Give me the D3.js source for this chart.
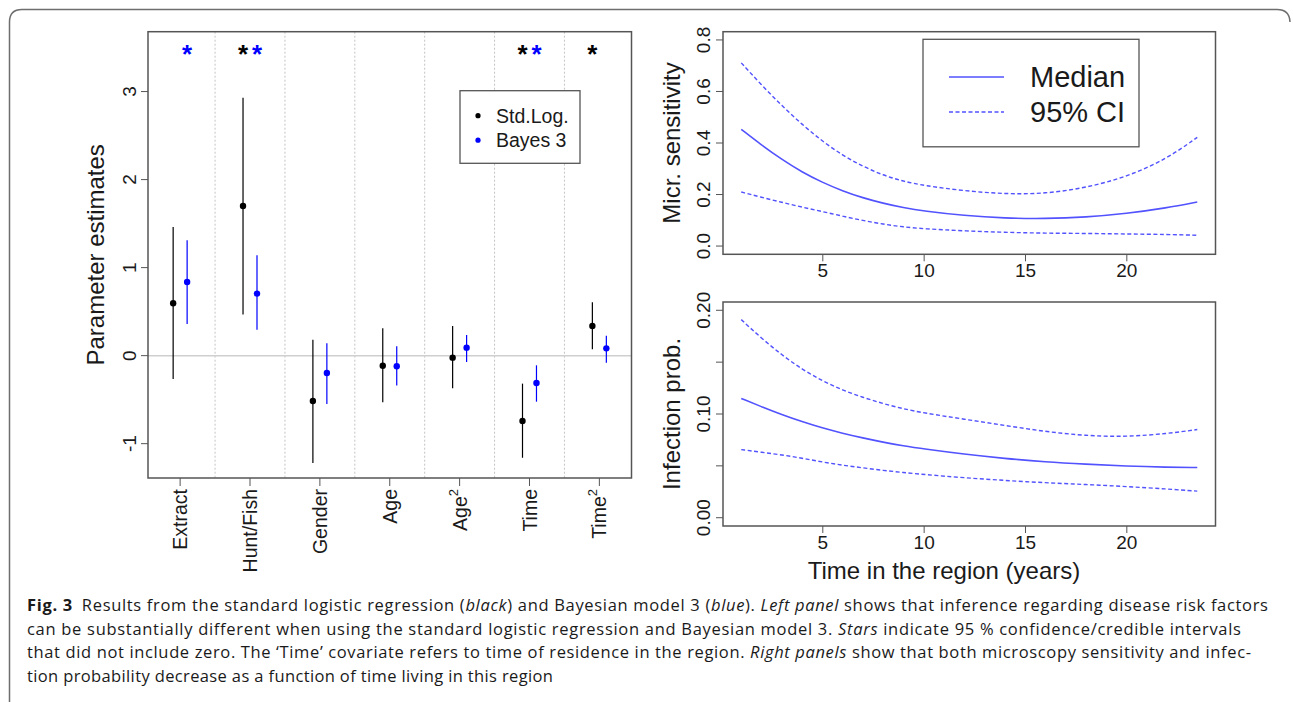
<!DOCTYPE html>
<html>
<head>
<meta charset="utf-8">
<script src="https://cdn.jsdelivr.net/npm/d3@7"></script>
<style>
    body { margin: 0; background: #fff; }
    svg { display: block; }
    .axisTxt { font-family: "Liberation Sans", Arial, sans-serif; fill: #1a1a1a; }
</style>
</head>
<body>
<script>
// ---- left panel: parameter estimates ----
var covariates   = ["Extract", "Hunt/Fish", "Gender", "Age", "Age", "Time", "Time"];
var covariateSup = ["", "", "", "", "2", "", "2"];
var stdEst   = [0.595, 1.70, -0.515, -0.114, -0.023, -0.742, 0.337];
var stdLow   = [-0.265, 0.466, -1.22, -0.53, -0.37, -1.16, 0.072];
var stdHigh  = [1.46, 2.93, 0.18, 0.31, 0.337, -0.318, 0.606];
var bayesEst  = [0.837, 0.705, -0.197, -0.121, 0.091, -0.31, 0.083];
var bayesLow  = [0.36, 0.295, -0.55, -0.34, -0.072, -0.523, -0.08];
var bayesHigh = [1.31, 1.14, 0.14, 0.106, 0.235, -0.11, 0.227];
var stdStar   = [false, true, false, false, false, true, true];
var bayesStar = [true, true, false, false, false, true, false];
var paramTicks = [-1, 0, 1, 2, 3];
var legendLeft = ["Std.Log.", "Bayes 3"];

// ---- right panels: curves over time in region ----
var years = [1, 2, 3, 4, 5, 6, 7, 8, 9, 10, 12, 14, 16, 18, 20, 22, 23.5];
var sensMedian = [0.453, 0.392, 0.336, 0.287, 0.247, 0.214, 0.187, 0.166, 0.149, 0.136, 0.118, 0.108, 0.106, 0.112, 0.126, 0.148, 0.171];
var sensLower  = [0.210, 0.189, 0.170, 0.151, 0.134, 0.116, 0.099, 0.085, 0.074, 0.067, 0.059, 0.053, 0.050, 0.049, 0.047, 0.045, 0.042];
var sensUpper  = [0.711, 0.625, 0.545, 0.472, 0.407, 0.352, 0.309, 0.275, 0.251, 0.235, 0.214, 0.202, 0.203, 0.226, 0.268, 0.338, 0.422];
var infMedian = [0.115, 0.107, 0.0994, 0.0926, 0.0865, 0.0814, 0.0769, 0.0728, 0.0692, 0.0663, 0.0612, 0.0571, 0.0538, 0.0516, 0.0497, 0.0487, 0.0484];
var infLower  = [0.0657, 0.0631, 0.0606, 0.0574, 0.0537, 0.0506, 0.0481, 0.0456, 0.0436, 0.0417, 0.0385, 0.0359, 0.0337, 0.0320, 0.0301, 0.0277, 0.0256];
var infUpper  = [0.191, 0.173, 0.157, 0.143, 0.132, 0.123, 0.116, 0.110, 0.105, 0.101, 0.095, 0.089, 0.083, 0.079, 0.078, 0.081, 0.085];
var yearTicks = [5, 10, 15, 20];
var sensTicks = [0, 0.2, 0.4, 0.6, 0.8];
var sensTickLabels = ["0.0", "0.2", "0.4", "0.6", "0.8"];
var infTicks = [0, 0.05, 0.1, 0.15, 0.2];
var infTickLabels = ["0.00", "", "0.10", "", "0.20"];
var legendRight = ["Median", "95% CI"];

var captionLines = [
    [["b", "Fig. 3"], ["", "\u2002Results from the standard logistic regression ("], ["i", "black"], ["", ") and Bayesian model 3 ("], ["i", "blue"], ["", "). "], ["i", "Left panel"], ["", " shows that inference regarding disease risk factors"]],
    [["", "can be substantially different when using the standard logistic regression and Bayesian model 3. "], ["i", "Stars"], ["", " indicate 95 % confidence/credible intervals"]],
    [["", "that did not include zero. The \u2018Time\u2019 covariate refers to time of residence in the region. "], ["i", "Right panels"], ["", " show that both microscopy sensitivity and infec-"]],
    [["", "tion probability decrease as a function of time living in this region"]]
];
var captionEnds = [1268, 1241, 1251, 553];

(function(){
    var W = 1293, H = 702;
    var BLUE = "#0000ff", CURVE = "#5252ff", BOX = "#555";

    var svg = d3.select("body").append("svg")
        .attr("width", W)
        .attr("height", H);

    svg.append("rect").attr("width", W).attr("height", H).attr("fill", "#fff");

    // rounded outer frame (open at bottom and right)
    svg.append("path")
        .attr("d", "M9.5,702 L9.5,22 Q9.5,9.5 22,9.5 L1277,9.5 Q1289.5,9.5 1290,22")
        .attr("fill", "none")
        .attr("stroke", "#6e6e6e")
        .attr("stroke-width", 1.5);

    drawLeftPanel();
    drawCurvePanel({
        top: 31.7, bottom: 254.3, yDomain: [-0.032, 0.832],
        ticks: sensTicks, labels: sensTickLabels,
        median: sensMedian, lower: sensLower, upper: sensUpper,
        title: "Micr. sensitivity", legend: true, xTitle: false
    });
    drawCurvePanel({
        top: 302, bottom: 526, yDomain: [-0.008, 0.208],
        ticks: infTicks, labels: infTickLabels,
        median: infMedian, lower: infLower, upper: infUpper,
        title: "Infection prob.", legend: false, xTitle: true
    });
    drawCaption();

    function drawLeftPanel(){
        var left = 148, right = 631.5, top = 31.7, bottom = 478;
        var x = d3.scaleLinear().domain([0.54, 7.46]).range([left, right]);
        var y = d3.scaleLinear().domain([-1.39, 3.68]).range([bottom, top]);
        var idx = d3.range(covariates.length);
        var g = svg.append("g");

        // dotted dividers between covariates
        g.selectAll(".divider")
            .data(d3.range(1, covariates.length))
            .enter()
            .append("line")
            .attr("x1", function(d){ return x(d + 0.5); })
            .attr("x2", function(d){ return x(d + 0.5); })
            .attr("y1", top).attr("y2", bottom)
            .attr("stroke", "#c4c4c4")
            .attr("stroke-dasharray", "2,2");

        // zero line
        g.append("line")
            .attr("x1", left).attr("x2", right)
            .attr("y1", y(0)).attr("y2", y(0))
            .attr("stroke", "#cfcfcf")
            .attr("stroke-width", 1.5);

        // interval bars + points
        var series = [
            { off: -0.1, est: stdEst, lo: stdLow, hi: stdHigh, col: "#000", star: stdStar },
            { off: 0.1, est: bayesEst, lo: bayesLow, hi: bayesHigh, col: BLUE, star: bayesStar }
        ];
        series.forEach(function(s){
            g.selectAll(null).data(idx).enter().append("line")
                .attr("x1", function(i){ return x(i + 1 + s.off); })
                .attr("x2", function(i){ return x(i + 1 + s.off); })
                .attr("y1", function(i){ return y(s.lo[i]); })
                .attr("y2", function(i){ return y(s.hi[i]); })
                .attr("stroke", s.col)
                .attr("stroke-width", 1.2);
            g.selectAll(null).data(idx).enter().append("circle")
                .attr("cx", function(i){ return x(i + 1 + s.off); })
                .attr("cy", function(i){ return y(s.est[i]); })
                .attr("r", 3.2)
                .attr("fill", s.col);
            g.selectAll(null).data(idx.filter(function(i){ return s.star[i]; })).enter().append("text")
                .attr("x", function(i){ return x(i + 1 + s.off); })
                .attr("y", 63)
                .attr("text-anchor", "middle")
                .attr("class", "axisTxt")
                .style("font-size", "26px")
                .style("font-weight", "bold")
                .style("fill", s.col)
                .text("*");
        });

        // box
        g.append("rect")
            .attr("x", left).attr("y", top)
            .attr("width", right - left).attr("height", bottom - top)
            .attr("fill", "none").attr("stroke", BOX).attr("stroke-width", 1.5);

        // y axis
        g.selectAll(".ytick").data(paramTicks).enter().append("line")
            .attr("x1", left - 7).attr("x2", left)
            .attr("y1", function(d){ return y(d); })
            .attr("y2", function(d){ return y(d); })
            .attr("stroke", BOX);
        g.selectAll(".ylab").data(paramTicks).enter().append("text")
            .attr("class", "axisTxt")
            .attr("transform", function(d){ return "translate(" + 129 + "," + y(d) + ") rotate(-90)"; })
            .attr("text-anchor", "middle")
            .attr("dy", "0.35em")
            .style("font-size", "19px")
            .text(function(d){ return d; });
        g.append("text")
            .attr("class", "axisTxt")
            .attr("transform", "translate(96," + (top + bottom) / 2 + ") rotate(-90)")
            .attr("text-anchor", "middle")
            .attr("dy", "0.35em")
            .style("font-size", "24px")
            .text("Parameter estimates");

        // x axis: covariate names, vertical
        g.selectAll(".xtick").data(idx).enter().append("line")
            .attr("x1", function(i){ return x(i + 1); })
            .attr("x2", function(i){ return x(i + 1); })
            .attr("y1", bottom).attr("y2", bottom + 8)
            .attr("stroke", BOX);
        var labs = g.selectAll(".xlab").data(idx).enter().append("text")
            .attr("class", "axisTxt")
            .attr("transform", function(i){ return "translate(" + x(i + 1) + ",489) rotate(-90)"; })
            .attr("text-anchor", "end")
            .attr("dy", "0.36em")
            .style("font-size", "19.5px");
        labs.append("tspan").text(function(i){ return covariates[i]; });
        labs.filter(function(i){ return covariateSup[i] !== ""; })
            .append("tspan")
            .attr("dy", "-0.7em")
            .style("font-size", "13px")
            .text(function(i){ return covariateSup[i]; });

        // legend
        var lg = g.append("g");
        lg.append("rect")
            .attr("x", 460).attr("y", 90.7)
            .attr("width", 120).attr("height", 72.6)
            .attr("fill", "#fff").attr("stroke", BOX).attr("stroke-width", 1.3);
        legendLeft.forEach(function(name, k){
            lg.append("circle")
                .attr("cx", 478).attr("cy", 115.7 + k * 24.5)
                .attr("r", 2.6)
                .attr("fill", k === 0 ? "#000" : BLUE);
            lg.append("text")
                .attr("class", "axisTxt")
                .attr("x", 496).attr("y", 115.7 + k * 24.5)
                .attr("dy", "0.35em")
                .style("font-size", "19.5px")
                .text(name);
        });
    }

    function drawCurvePanel(opt){
        var left = 723, right = 1215.5;
        var x = d3.scaleLinear().domain([0.1, 24.4]).range([left, right]);
        var y = d3.scaleLinear().domain(opt.yDomain).range([opt.bottom, opt.top]);
        var g = svg.append("g");

        var line = d3.line()
            .x(function(d, i){ return x(years[i]); })
            .y(function(d){ return y(d); })
            .curve(d3.curveBasis);

        [opt.upper, opt.lower].forEach(function(arr){
            g.append("path")
                .attr("d", line(arr))
                .attr("fill", "none")
                .attr("stroke", CURVE)
                .attr("stroke-width", 1.4)
                .attr("stroke-dasharray", "4,2.5");
        });
        g.append("path")
            .attr("d", line(opt.median))
            .attr("fill", "none")
            .attr("stroke", CURVE)
            .attr("stroke-width", 1.6);

        g.append("rect")
            .attr("x", left).attr("y", opt.top)
            .attr("width", right - left).attr("height", opt.bottom - opt.top)
            .attr("fill", "none").attr("stroke", BOX).attr("stroke-width", 1.5);

        // x axis
        var xAxis = g.append("g")
            .attr("transform", "translate(0," + opt.bottom + ")")
            .call(d3.axisBottom(x).tickValues(yearTicks).tickSize(7).tickPadding(4));
        xAxis.select(".domain").remove();
        xAxis.selectAll("line").attr("stroke", BOX);
        xAxis.selectAll("text")
            .attr("class", "axisTxt")
            .style("font-size", "19px")
            .attr("y", 16).attr("dy", "0.35em");

        // y axis with vertical labels
        g.selectAll(null).data(opt.ticks).enter().append("line")
            .attr("x1", left - 7).attr("x2", left)
            .attr("y1", function(d){ return y(d); })
            .attr("y2", function(d){ return y(d); })
            .attr("stroke", BOX);
        g.selectAll(null).data(opt.ticks).enter().append("text")
            .attr("class", "axisTxt")
            .attr("transform", function(d){ return "translate(703," + y(d) + ") rotate(-90)"; })
            .attr("text-anchor", "middle")
            .attr("dy", "0.35em")
            .style("font-size", "19px")
            .text(function(d, i){ return opt.labels[i]; });
        g.append("text")
            .attr("class", "axisTxt")
            .attr("transform", "translate(672," + (opt.top + opt.bottom) / 2 + ") rotate(-90)")
            .attr("text-anchor", "middle")
            .attr("dy", "0.35em")
            .style("font-size", "24px")
            .text(opt.title);

        if (opt.xTitle){
            g.append("text")
                .attr("class", "axisTxt")
                .attr("x", 944).attr("y", 571)
                .attr("text-anchor", "middle")
                .attr("dy", "0.35em")
                .style("font-size", "24px")
                .text("Time in the region (years)");
        }

        if (opt.legend){
            g.append("rect")
                .attr("x", 923).attr("y", 39.3)
                .attr("width", 216).attr("height", 107.5)
                .attr("fill", "#fff").attr("stroke", BOX).attr("stroke-width", 1.3);
            legendRight.forEach(function(name, k){
                var yy = 77 + k * 35;
                g.append("line")
                    .attr("x1", 949).attr("x2", 1004)
                    .attr("y1", yy).attr("y2", yy)
                    .attr("stroke", CURVE)
                    .attr("stroke-width", 1.5)
                    .attr("stroke-dasharray", k === 0 ? null : "4,2.5");
                g.append("text")
                    .attr("class", "axisTxt")
                    .attr("x", 1030).attr("y", yy)
                    .attr("dy", "0.35em")
                    .style("font-size", "29px")
                    .text(name);
            });
        }
    }

    function drawCaption(){
        captionLines.forEach(function(parts, k){
            var t = svg.append("text")
                .attr("x", 27)
                .attr("y", 611 + k * 23.6)
                .style("font-family", "'Open Sans', 'Noto Sans', sans-serif")
                .style("font-size", "16.5px")
                .style("font-variant-ligatures", "none")
                .style("fill", "#1a1a1a");
            parts.forEach(function(p){
                t.append("tspan")
                    .style("font-weight", p[0] === "b" ? "bold" : null)
                    .style("font-style", p[0] === "i" ? "italic" : null)
                    .text(p[1]);
            });
            // fit each line to the measured line end (spread over all characters)
            var w = t.node().getComputedTextLength();
            var text = parts.map(function(p){ return p[1]; }).join("");
            t.style("letter-spacing", ((captionEnds[k] - 27 - w) / (text.length - 1)) + "px");
        });
    }
})();
</script>
</body>
</html>
